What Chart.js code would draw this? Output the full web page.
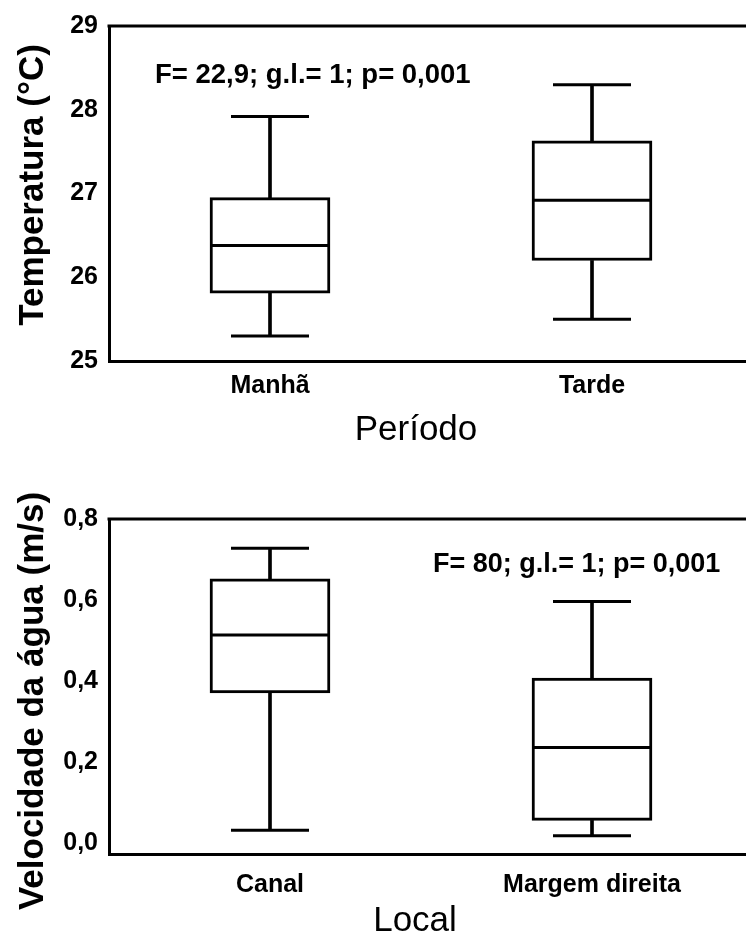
<!DOCTYPE html>
<html>
<head>
<meta charset="utf-8">
<script src="https://cdn.jsdelivr.net/npm/chart.js@4.4.0/dist/chart.umd.min.js"></script>
<style>
  html, body { margin: 0; padding: 0; background: #fff; overflow: hidden; }
  canvas { position: absolute; left: 0; }
  #tempChart { top: 0; }
  #velChart { top: 470px; }
</style>
</head>
<body>
<canvas id="tempChart" width="760" height="470"></canvas>
<canvas id="velChart" width="760" height="480"></canvas>
<script>
// temperatura x período
const periodos = ['Manhã', 'Tarde'];
const tempMin = [25.3, 25.5];
const tempQ1 = [25.81, 26.2];
const tempMed = [26.38, 26.92];
const tempQ3 = [26.95, 27.63];
const tempMax = [27.92, 28.3];
const tempTicks = [25, 26, 27, 28, 29];
const tempTickLabels = ['25', '26', '27', '28', '29'];

// velocidade da água x local
const locais = ['Canal', 'Margem direita'];
const velMin = [0.031, 0.017];
const velQ1 = [0.37, 0.055];
const velMed = [0.513, 0.235];
const velQ3 = [0.652, 0.407];
const velMax = [0.728, 0.596];
const velTicks = [0, 0.2, 0.4, 0.6, 0.8];
const velTickLabels = ['0,0', '0,2', '0,4', '0,6', '0,8'];

const FONT = "'Liberation Sans', Arial, sans-serif";

// top frame line, axis titles (off-centre like the scan) and the F / g.l. / p text
const framePlugin = {
    id: 'frame',
    afterDraw(chart, args, opts) {
        const ctx = chart.ctx;
        const a = chart.chartArea;
        ctx.save();
        ctx.strokeStyle = '#000';
        ctx.lineWidth = 3;
        ctx.beginPath();
        ctx.moveTo(a.left - 1.5, a.top);
        ctx.lineTo(a.right, a.top);
        ctx.stroke();

        ctx.fillStyle = '#000';
        ctx.textBaseline = 'middle';
        ctx.font = 'bold ' + opts.textSize + 'px ' + FONT;
        ctx.fillText(opts.text, a.left + opts.dx, a.top + opts.dy);

        ctx.textAlign = 'center';
        ctx.font = '35px ' + FONT;
        ctx.fillText(opts.xTitle, opts.xTitlePos[0], opts.xTitlePos[1]);

        ctx.translate(opts.yTitlePos[0], opts.yTitlePos[1]);
        ctx.rotate(-Math.PI / 2);
        ctx.font = 'bold 35px ' + FONT;
        ctx.fillText(opts.yTitle, 0, 0);
        ctx.restore();
    }
};

function boxChart(id, labels, mins, q1s, meds, q3s, maxs, ticks, tickLabels, cfg) {
    const box = labels.map((_, i) => [q1s[i], q3s[i]]);
    const lower = labels.map((_, i) => [mins[i], q1s[i]]);
    const upper = labels.map((_, i) => [q3s[i], maxs[i]]);
    const lineMark = (data, r) => ({
        type: 'line',
        data: data,
        showLine: false,
        pointStyle: 'line',
        pointRadius: r,
        pointBorderWidth: 3,
        pointBorderColor: '#000',
        order: 0
    });
    return new Chart(document.getElementById(id), {
        type: 'bar',
        data: {
            labels: labels,
            datasets: [
                lineMark(meds, 60),
                lineMark(maxs, 39),
                lineMark(mins, 39),
                {
                    data: box,
                    backgroundColor: '#fff',
                    borderColor: '#000',
                    borderWidth: 3,
                    borderSkipped: false,
                    barThickness: 120,
                    grouped: false,
                    order: 1
                },
                { data: lower, backgroundColor: '#000', borderWidth: 0, barThickness: 3, grouped: false, order: 2 },
                { data: upper, backgroundColor: '#000', borderWidth: 0, barThickness: 3, grouped: false, order: 2 }
            ]
        },
        options: {
            responsive: false,
            animation: false,
            events: [],
            layout: { autoPadding: false, padding: { top: cfg.padTop, right: 7, bottom: cfg.padBottom, left: 0 } },
            plugins: {
                legend: { display: false },
                tooltip: { enabled: false },
                frame: {
                    text: cfg.text, textSize: cfg.textSize, dx: cfg.dx, dy: cfg.dy,
                    xTitle: cfg.xTitle, xTitlePos: cfg.xTitlePos,
                    yTitle: cfg.yTitle, yTitlePos: cfg.yTitlePos
                }
            },
            scales: {
                x: {
                    grid: { display: false, drawTicks: false },
                    border: { display: true, color: '#000', width: 3 },
                    ticks: {
                        color: '#000',
                        font: { family: FONT, size: 25, weight: 'bold' },
                        padding: cfg.labelPad,
                        maxRotation: 0,
                        autoSkip: false
                    },
                    afterFit: s => { s.height = cfg.xHeight; }
                },
                y: {
                    min: cfg.yMin,
                    max: cfg.yMax,
                    grid: { display: false, drawTicks: false },
                    border: { display: true, color: '#000', width: 3 },
                    afterBuildTicks: s => { s.ticks = ticks.map(v => ({ value: v })); },
                    ticks: {
                        color: '#000',
                        font: { family: FONT, size: 25, weight: 'bold' },
                        padding: 11,
                        callback: (v, i) => tickLabels[i]
                    },
                    afterFit: s => { s.width = 109; }
                }
            }
        },
        plugins: [framePlugin]
    });
}

boxChart('tempChart', periodos, tempMin, tempQ1, tempMed, tempQ3, tempMax, tempTicks, tempTickLabels, {
    yMin: 25, yMax: 29,
    padTop: 25, padBottom: 9, xHeight: 100, labelPad: 10,
    xTitle: 'Período', xTitlePos: [416, 430],
    yTitle: 'Temperatura (°C)', yTitlePos: [33, 185],
    text: 'F= 22,9; g.l.= 1; p= 0,001', textSize: 27.5, dx: 46, dy: 49
});

boxChart('velChart', locais, velMin, velQ1, velMed, velQ3, velMax, velTicks, velTickLabels, {
    yMin: -0.028, yMax: 0.8,
    padTop: 49, padBottom: 0, xHeight: 96, labelPad: 16,
    xTitle: 'Local', xTitlePos: [415, 451],
    yTitle: 'Velocidade da água (m/s)', yTitlePos: [33, 231],
    text: 'F= 80; g.l.= 1; p= 0,001', textSize: 27, dx: 324, dy: 46
});
</script>
</body>
</html>
